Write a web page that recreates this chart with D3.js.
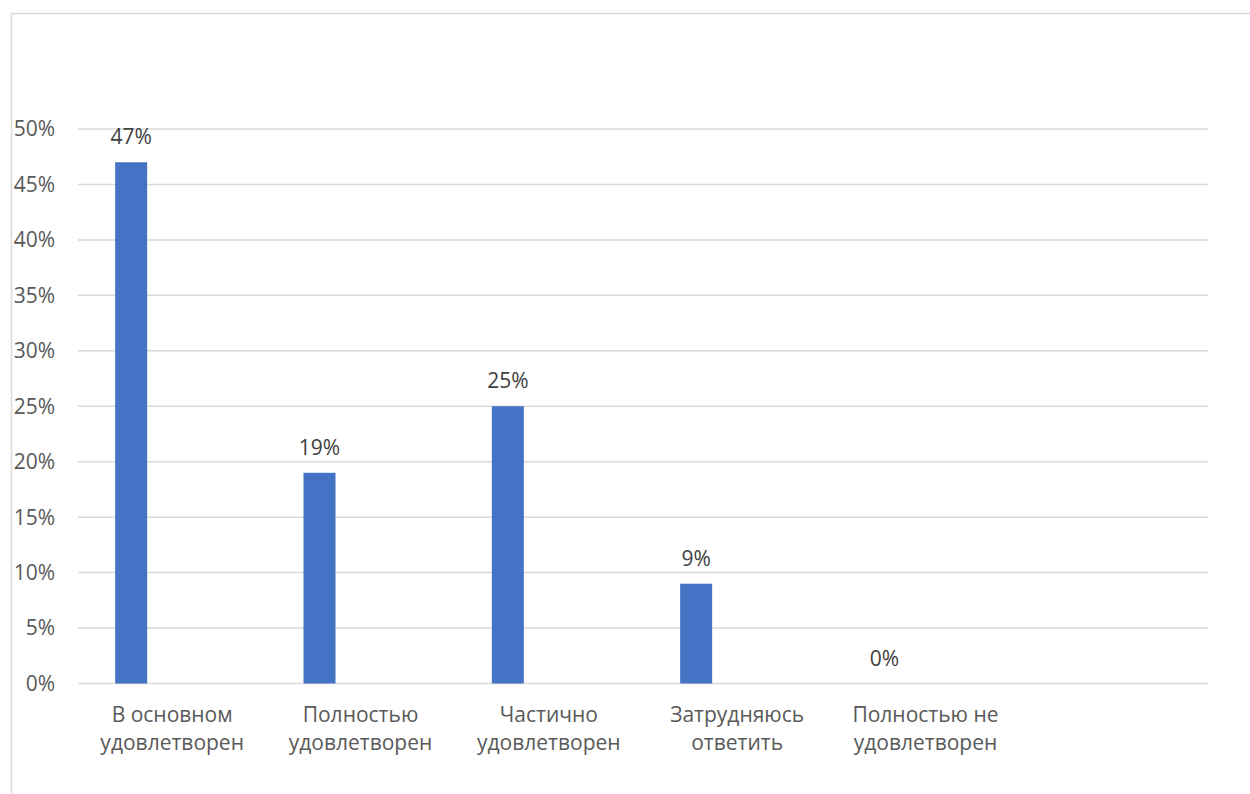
<!DOCTYPE html>
<html><head><meta charset="utf-8">
<script src="https://cdn.jsdelivr.net/npm/d3@7"></script>
<style>html,body{margin:0;padding:0;background:#fff;}svg{display:block;font-family:"Open Sans","Noto Sans",sans-serif;}</style>
</head><body>
<svg id="chart" width="1250" height="794"></svg>
<script>
const categories = ["В основном удовлетворен", "Полностью удовлетворен", "Частично удовлетворен", "Затрудняюсь ответить", "Полностью не удовлетворен", ""];
const values = [47, 19, 25, 9, 0, null];
const yTicks = [0, 5, 10, 15, 20, 25, 30, 35, 40, 45, 50];

const svg = d3.select("#chart");
const FS = 21;
// chart border
svg.append("rect").attr("x", 11.5).attr("y", 13.5).attr("width", 1260).attr("height", 800)
  .attr("fill", "#fff").attr("stroke", "#d9d9d9").attr("stroke-width", 1.5);

const plot = {left: 78, right: 1208, top: 129, bottom: 683.5};
const x = d3.scaleBand().domain(d3.range(categories.length)).range([plot.left, plot.right]).paddingInner(0).paddingOuter(0);
const y = d3.scaleLinear().domain([0, 50]).range([plot.bottom, plot.top]);

// gridlines
svg.append("g").selectAll("line").data(yTicks).join("line")
  .attr("x1", plot.left).attr("x2", plot.right)
  .attr("y1", d => y(d)).attr("y2", d => y(d))
  .attr("stroke", "#d9d9d9").attr("stroke-width", 1.5);

// y labels
svg.append("g").selectAll("text").data(yTicks).join("text")
  .attr("x", 55).attr("y", d => y(d)).attr("dy", "0.35em")
  .attr("text-anchor", "end").attr("font-size", FS).attr("fill", "#595959")
  .text(d => d + "%");

// bars: first series of a cluster, offset to left in band
const barW = 32;
const barOffset = x.bandwidth() / 2 - 41 - barW / 2;
const data = categories.map((c, i) => ({c, i, v: values[i]})).filter(d => d.v !== null);
svg.append("g").selectAll("rect").data(data).join("rect")
  .attr("x", d => x(d.i) + barOffset).attr("width", barW)
  .attr("y", d => y(d.v)).attr("height", d => y(0) - y(d.v))
  .attr("fill", "#4472c4");

// data labels
svg.append("g").selectAll("text").data(data).join("text")
  .attr("x", d => x(d.i) + barOffset + barW / 2).attr("y", d => y(d.v) - 18)
  .attr("text-anchor", "middle").attr("font-size", FS).attr("fill", "#404040")
  .text(d => d.v + "%");

// category labels
const cl = svg.append("g").selectAll("text").data(categories.map((c, i) => ({c, i}))).join("text")
  .attr("x", d => x(d.i) + x.bandwidth() / 2).attr("y", 722)
  .attr("text-anchor", "middle").attr("font-size", FS).attr("fill", "#595959");
cl.each(function(d) {
  const k = d.c.lastIndexOf(" ");
  const lines = k < 0 ? [d.c] : [d.c.slice(0, k), d.c.slice(k + 1)];
  d3.select(this).selectAll("tspan").data(lines).join("tspan")
    .attr("x", x(d.i) + x.bandwidth() / 2).attr("dy", (l, j) => j === 0 ? 0 : 28).text(l => l);
});
</script>
</body></html>
